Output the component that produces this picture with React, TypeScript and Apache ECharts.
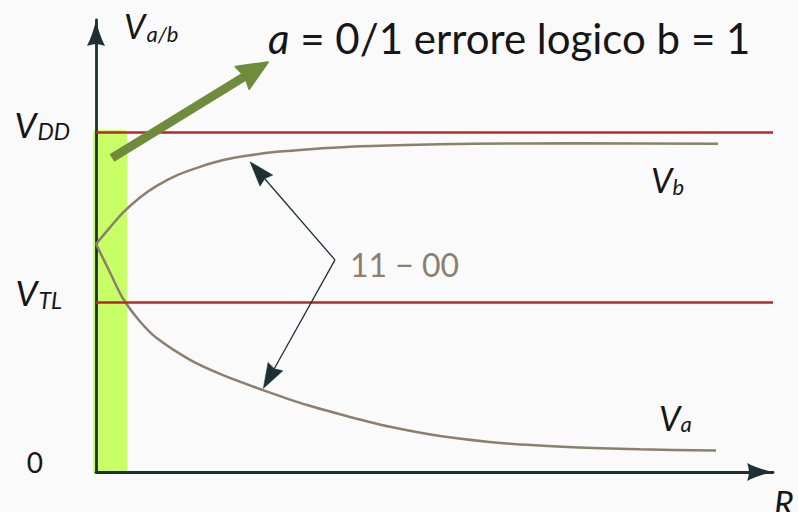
import React, { useEffect, useRef } from 'react';
import * as echarts from 'echarts';

// ---- data (R in arbitrary units, V normalised to V_DD = 1) ----
const VDD = 1;
const VTL = 0.5;
const yTickValues = [0, VTL, VDD];
const yTickLabels = ['{z|0}', '{vT|V}{sT|TL}', '{v|V}{s|DD}'];

const rVb = [0, 0.207, 0.403, 0.65, 0.897, 1.192, 1.536, 1.88, 2.275, 2.669, 3.161, 3.752, 4.589, 5.569, 7.046, 9.188];
const vb = [0.671, 0.72, 0.764, 0.808, 0.842, 0.873, 0.898, 0.918, 0.932, 0.942, 0.95, 0.957, 0.962, 0.966, 0.967, 0.966];
const rVa = [0, 0.207, 0.403, 0.65, 0.897, 1.389, 1.876, 2.467, 3.117, 3.752, 4.343, 5.081, 6.067, 7.046, 8.035, 9.158];
const va = [0.671, 0.587, 0.509, 0.443, 0.394, 0.33, 0.285, 0.241, 0.197, 0.162, 0.133, 0.106, 0.084, 0.073, 0.067, 0.063];

// band of the "logic error" region: [r0, v0, r1, v1]
const band = [0, 0, 0.46, 1.006];
// arrows: [r0, v0, r1, v1, kind] kind 1 = green, 0 = black
const greenArrow = [0.236, 0.924, 2.54, 1.206, 1];
const arrowUp = [3.53, 0.624, 2.275, 0.913, 0];
const arrowDown = [3.53, 0.624, 2.471, 0.246, 0];

const FONT = 'Lato, "DejaVu Sans", sans-serif';
const INK = '#161616';
const AXIS = '#1f3035';
const CURVE = '#8c7f6f';
const RED = '#b32a2c';
const BAND = '#c9ff66';
const GREEN = '#6e8c3c';
const ARROW_PATH = 'path://M9 0 C10.5 8 14 18 18 26 C12 23.5 6 23.5 0 26 C4 18 7.5 8 9 0 Z';

export default function App() {
  const ref = useRef<HTMLDivElement>(null);
  useEffect(() => {
    if (!ref.current) return;
    const chart = echarts.init(ref.current, null, { renderer: 'svg' });
    const ital = { fontFamily: FONT, fontStyle: 'italic', color: INK, fill: INK } as any;
    chart.setOption({
      animation: false,
      backgroundColor: '#fafafa',
      grid: { left: 96, right: 25, top: 20, bottom: 40, outerBoundsMode: 'none' } as any,
      xAxis: {
        type: 'value', min: 0, max: 10,
        axisLine: { show: true, onZero: true, symbol: ['none', ARROW_PATH], symbolSize: [18, 26], symbolOffset: [0, -13], lineStyle: { color: AXIS, width: 2.8 } },
        axisTick: { show: false }, axisLabel: { show: false }, splitLine: { show: false },
      },
      yAxis: {
        type: 'value', min: 0, max: 1.33, interval: 0.5,
        axisLine: { show: true, symbol: ['none', ARROW_PATH], symbolSize: [18, 26], symbolOffset: [0, -13], lineStyle: { color: AXIS, width: 2.8 } },
        axisTick: { show: false }, splitLine: { show: false },
        axisLabel: {
          margin: 26,
          formatter: (v: number) => {
            const i = yTickValues.findIndex((t) => Math.abs(t - v) < 1e-9);
            return i >= 0 ? yTickLabels[i] : '';
          },
          rich: {
            v: { ...ital, fontSize: 35, lineHeight: 35, padding: [0, 0, 17, 0] },
            s: { ...ital, fontSize: 23, lineHeight: 23, padding: [0, 0, 3, 1] },
            vT: { ...ital, fontSize: 35, lineHeight: 35, padding: [0, 0, 21, 0] },
            sT: { ...ital, fontSize: 23, lineHeight: 23, padding: [0, 8, 4, 1] },
            z: { fontFamily: FONT, color: INK, fontSize: 28, lineHeight: 28, padding: [0, 27, 21, 0] },
          },
        },
      },
      series: [
        {
          type: 'custom', z: -1, silent: true, clip: false,
          data: [band],
          renderItem: (_p: any, api: any) => {
            const a = api.coord([api.value(0), api.value(3)]);
            const b = api.coord([api.value(2), api.value(1)]);
            return {
              type: 'rect',
              shape: { x: a[0] - 3, y: a[1], width: b[0] - a[0] + 3, height: b[1] - a[1] + 2, r: 3 },
              style: { fill: BAND },
            };
          },
        },
        {
          type: 'line', name: 'Vb', showSymbol: false, smooth: 0.3, silent: true,
          data: rVb.map((r, i) => [r, vb[i]]),
          lineStyle: { color: CURVE, width: 2.5 },
          markLine: {
            silent: true, symbol: 'none', label: { show: false },
            lineStyle: { color: RED, width: 2.5, type: 'solid' },
            emphasis: { disabled: true },
            data: [{ yAxis: VDD }, { yAxis: VTL }],
          },
          z: 3,
        },
        {
          type: 'line', name: 'Va', showSymbol: false, smooth: 0.3, silent: true,
          data: rVa.map((r, i) => [r, va[i]]),
          lineStyle: { color: CURVE, width: 2.5 },
          z: 3,
        },
        {
          type: 'custom', silent: true, clip: false, z: 5,
          data: [greenArrow, arrowUp, arrowDown],
          renderItem: (_p: any, api: any) => {
            const p1 = api.coord([api.value(0), api.value(1)]);
            const p2 = api.coord([api.value(2), api.value(3)]);
            const green = api.value(4) === 1;
            const headLen = green ? 30 : 25;
            const headW = green ? 26 : 17;
            const lw = green ? 9 : 1.3;
            const color = green ? GREEN : AXIS;
            const dx = p2[0] - p1[0];
            const dy = p2[1] - p1[1];
            const L = Math.hypot(dx, dy);
            const ux = dx / L, uy = dy / L;
            const nx = -uy, ny = ux;
            const bx = p2[0] - ux * headLen, by = p2[1] - uy * headLen;
            const mx = p2[0] - ux * headLen * 0.9, my = p2[1] - uy * headLen * 0.9;
            return {
              type: 'group',
              children: [
                { type: 'line', shape: { x1: p1[0], y1: p1[1], x2: mx, y2: my }, style: { stroke: color, lineWidth: lw, lineCap: 'butt' } },
                {
                  type: 'polygon',
                  shape: { points: [[p2[0], p2[1]], [bx + nx * headW / 2, by + ny * headW / 2], [mx, my], [bx - nx * headW / 2, by - ny * headW / 2]] },
                  style: { fill: color, stroke: color, lineWidth: green ? 2 : 0.5, lineJoin: 'round' },
                },
              ],
            };
          },
        },
      ],
      graphic: [
        {
          type: 'text', x: 268, y: 38, silent: true,
          style: {
            text: '{i|a} = 0/1 errore logico b = 1', fontFamily: FONT, fontSize: 42, fill: INK, verticalAlign: 'middle',
            rich: { i: { fontFamily: FONT, fontStyle: 'italic', fontSize: 42, fill: INK } },
          },
        },
        {
          type: 'text', x: 124, y: 25, silent: true,
          style: {
            text: '{v|V}{s|a/b}', verticalAlign: 'middle',
            rich: { v: { ...ital, fontSize: 34, lineHeight: 34 }, s: { ...ital, fontSize: 22, lineHeight: 22, padding: [16, 0, 0, 1] } },
          },
        },
        {
          type: 'text', x: 651, y: 179, silent: true,
          style: {
            text: '{v|V}{s|b}', verticalAlign: 'middle',
            rich: { v: { ...ital, fontSize: 34, lineHeight: 34 }, s: { ...ital, fontSize: 22, lineHeight: 22, padding: [14, 0, 0, 0] } },
          },
        },
        {
          type: 'text', x: 659, y: 417, silent: true,
          style: {
            text: '{v|V}{s|a}', verticalAlign: 'middle',
            rich: { v: { ...ital, fontSize: 34, lineHeight: 34 }, s: { ...ital, fontSize: 22, lineHeight: 22, padding: [12, 0, 0, 0] } },
          },
        },
        {
          type: 'text', x: 774, y: 502, silent: true,
          style: { text: 'R', ...ital, fontSize: 34, verticalAlign: 'middle' },
        },
        {
          type: 'text', x: 350, y: 264, silent: true,
          style: { text: '11 \u2212 00', fontFamily: FONT, fontSize: 32, fill: CURVE, verticalAlign: 'middle' },
        },
      ],
    });
    return () => chart.dispose();
  }, []);
  return <div ref={ref} style={{ position: 'fixed', left: 0, top: 0, width: 798, height: 512 }} />;
}
